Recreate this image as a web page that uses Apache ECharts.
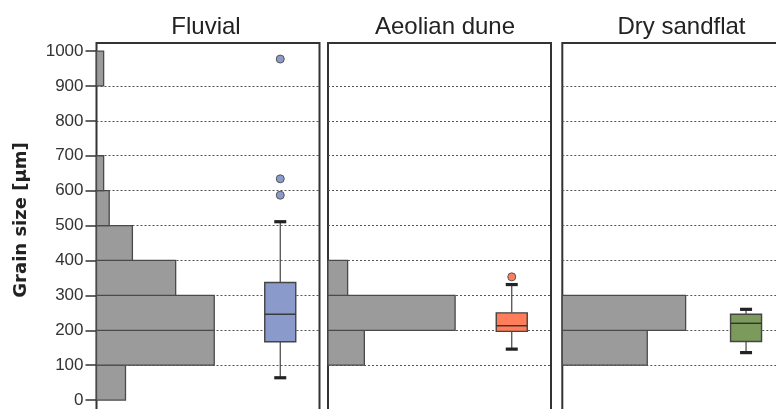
<!DOCTYPE html>
<html><head><meta charset="utf-8">
<script src="https://cdn.jsdelivr.net/npm/echarts@6/dist/echarts.min.js"></script>
<style>html,body{margin:0;padding:0;background:#fff}#c{width:776px;height:409px}</style>
</head><body><div id="c"></div>
<script>
// ---- data ----
const panelTitles = ['Fluvial', 'Aeolian dune', 'Dry sandflat'];
const binStarts = [0, 100, 200, 300, 400, 500, 600, 700, 800, 900];
const binWidth = 100;
const fluvialHist = [13.0, 52.8, 52.8, 35.5, 16.1, 5.7, 3.2, 0, 0, 3.2];
const aeolianHist = [0, 16.3, 57.0, 8.8, 0, 0, 0, 0, 0, 0];
const drySandflatHist = [0, 38.1, 55.3, 0, 0, 0, 0, 0, 0, 0];
// boxplot stats: [low whisker, Q1, median, Q3, high whisker]
const fluvialBox = [64, 167, 246, 337, 511];
const aeolianBox = [146, 197, 213, 250, 331];
const drySandflatBox = [136, 168, 220, 246, 260];
const fluvialOutliers = [587, 634, 977];
const aeolianOutliers = [353];
const drySandflatOutliers = [];
const boxXPosition = 82.4;
const yTicks = [0, 100, 200, 300, 400, 500, 600, 700, 800, 900, 1000];
const yAxisTitle = 'Grain size [µm]';

// ---- layout / style ----
const panels = [
  {hist: fluvialHist, box: fluvialBox, out: fluvialOutliers, color: '#8A9BCB', left: 96.5, titleX: 201},
  {hist: aeolianHist, box: aeolianBox, out: aeolianOutliers, color: '#FF7D5A', left: 328, titleX: 440},
  {hist: drySandflatHist, box: drySandflatBox, out: drySandflatOutliers, color: '#7B9A5C', left: 562.3, titleX: 676.5}
];

function histItem(params, api) {
  const s = api.value(0), e = api.value(1), v = api.value(2);
  const p0 = api.coord([0, e]);
  const p1 = api.coord([v, s]);
  return {
    type: 'rect',
    shape: {x: p0[0], y: p0[1], width: p1[0] - p0[0], height: p1[1] - p0[1]},
    style: {fill: '#9B9B9B', stroke: '#4A4A4A', lineWidth: 1.3}
  };
}

function boxRenderer(color) {
  return function (params, api) {
    const x = api.value(0);
    const pl = api.coord([x, api.value(1)]);
    const pq1 = api.coord([x, api.value(2)]);
    const pm = api.coord([x, api.value(3)]);
    const pq3 = api.coord([x, api.value(4)]);
    const ph = api.coord([x, api.value(5)]);
    const cx = pl[0], hw = 15.5, cw = 6;
    return {
      type: 'group',
      children: [
        {type: 'line', shape: {x1: cx, y1: ph[1], x2: cx, y2: pq3[1]}, style: {stroke: '#444', lineWidth: 1.2}},
        {type: 'line', shape: {x1: cx, y1: pq1[1], x2: cx, y2: pl[1]}, style: {stroke: '#444', lineWidth: 1.2}},
        {type: 'rect', shape: {x: cx - cw, y: ph[1] - 1.6, width: 2 * cw, height: 3.2}, style: {fill: '#222'}},
        {type: 'rect', shape: {x: cx - cw, y: pl[1] - 1.6, width: 2 * cw, height: 3.2}, style: {fill: '#222'}},
        {type: 'rect', shape: {x: cx - hw, y: pq3[1], width: 2 * hw, height: pq1[1] - pq3[1]}, style: {fill: color, stroke: '#444', lineWidth: 1.4}},
        {type: 'line', shape: {x1: cx - hw, y1: pm[1], x2: cx + hw, y2: pm[1]}, style: {stroke: '#333', lineWidth: 1.4}}
      ]
    };
  };
}

const grid = [], xAxis = [], yAxis = [], series = [], title = [];
panels.forEach((p, i) => {
  grid.push({left: p.left, top: 43, width: 223, height: 392, show: true, outerBoundsMode: 'none', containLabel: false,
    borderColor: '#333', borderWidth: 2, backgroundColor: 'transparent'});
  xAxis.push({gridIndex: i, type: 'value', min: 0, max: 100, show: false});
  yAxis.push({gridIndex: i, type: 'value', min: -100, max: 1023, interval: 100,
    axisLine: {show: false},
    axisTick: {show: i === 0, length: 11, customValues: yTicks, lineStyle: {color: '#333', width: 1.5}},
    axisLabel: {show: i === 0, customValues: yTicks, margin: 13, fontSize: 17, color: '#333', fontFamily: 'Liberation Sans',
      formatter: v => String(v)},
    splitLine: {show: true, showMinLine: false, showMaxLine: false,
      lineStyle: {color: '#555', type: [2, 2], width: 1}}
  });
  title.push({text: panelTitles[i], left: p.titleX, top: 10, textAlign: 'center',
    textStyle: {fontSize: 24, fontWeight: 'normal', color: '#222', fontFamily: 'Liberation Sans'}});
  const histData = [];
  binStarts.forEach((b, k) => { if (p.hist[k] > 0) histData.push([b, b + binWidth, p.hist[k]]); });
  series.push({type: 'custom', xAxisIndex: i, yAxisIndex: i, renderItem: histItem, data: histData, z: 2, silent: true});
  series.push({type: 'custom', xAxisIndex: i, yAxisIndex: i, renderItem: boxRenderer(p.color),
    data: [[boxXPosition].concat(p.box)], z: 3, silent: true});
  series.push({type: 'scatter', xAxisIndex: i, yAxisIndex: i, symbolSize: 8, z: 4, silent: true,
    itemStyle: {color: p.color, borderColor: '#555', borderWidth: 1, opacity: 1},
    data: p.out.map(v => [boxXPosition, v])});
});

const chart = echarts.init(document.getElementById('c'), null, {renderer: 'canvas'});
chart.setOption({
  animation: false,
  backgroundColor: '#fff',
  title, grid, xAxis, yAxis, series,
  graphic: [{type: 'text', x: 21, y: 220, rotation: Math.PI / 2,
    style: {text: yAxisTitle, font: 'bold 18px "DejaVu Sans"', fill: '#222', align: 'center', verticalAlign: 'middle'}}]
});
</script></body></html>
